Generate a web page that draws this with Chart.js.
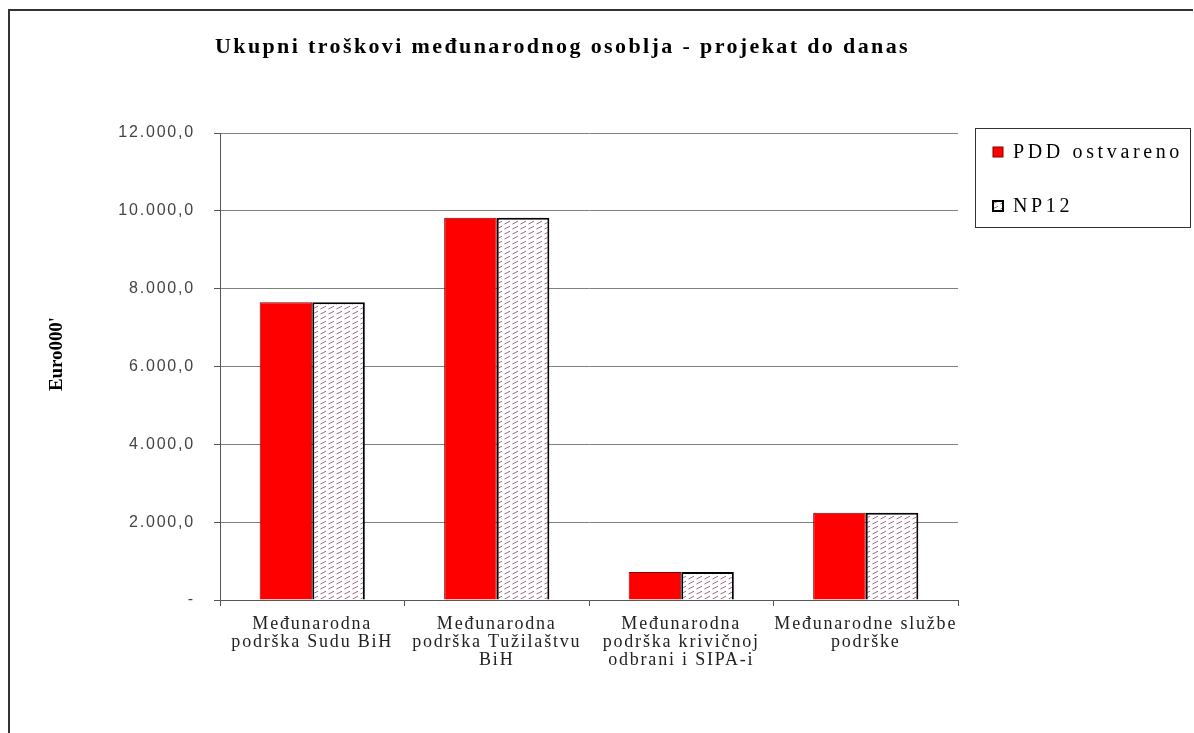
<!DOCTYPE html>
<html><head><meta charset="utf-8">
<script src="https://cdn.jsdelivr.net/npm/chart.js@4"></script>
<style>html,body{margin:0;padding:0;background:#fff}#wrap{width:1194px;height:733px;position:relative}</style>
</head><body><div id="wrap"><canvas id="c" width="1194" height="733"></canvas></div>
<script>
// ---- data ----
const categories = [
  ["Međunarodna", "podrška Sudu BiH"],
  ["Međunarodna", "podrška Tužilaštvu", "BiH"],
  ["Međunarodna", "podrška krivičnoj", "odbrani i SIPA-i"],
  ["Međunarodne službe", "podrške"]
];
const seriesNames = ["PDD ostvareno", "NP12"];
const pddValues = [7650, 9820, 720, 2240];
const np12Values = [7650, 9820, 720, 2240];
const yTickValues = [0, 2000, 4000, 6000, 8000, 10000, 12000];
const yTickLabels = ["-", "2.000,0", "4.000,0", "6.000,0", "8.000,0", "10.000,0", "12.000,0"];
const chartTitle = "Ukupni troškovi međunarodnog osoblja - projekat do danas";
const yAxisTitle = "Euro000'";

// ---- hatch pattern ----
function makeHatch() {
  const p = document.createElement('canvas');
  p.width = 8; p.height = 5;
  const g = p.getContext('2d');
  g.fillStyle = '#ffffff'; g.fillRect(0, 0, 8, 5);
  g.strokeStyle = '#a06a8a'; g.lineWidth = 1;
  g.beginPath(); g.moveTo(0.5, 4); g.lineTo(6, 1.2); g.stroke();
  return g.createPattern(p, 'repeat');
}
const ctx0 = document.getElementById('c').getContext('2d');
const hatch = makeHatch();

const SERIF = '"Liberation Serif", "Times New Roman", serif';
const SANS = '"Liberation Sans", Arial, sans-serif';

function patchScale(scale, spacing) {
  if (!scale || scale._lsPatched) return;
  const orig = scale.drawLabels.bind(scale);
  scale.drawLabels = function (ca) {
    const c = this.ctx; c.save(); c.letterSpacing = spacing; orig(ca); c.restore();
  };
  scale._lsPatched = true;
}

function fitText(c, text, x, y, targetW) {
  c.letterSpacing = '0px';
  const w0 = c.measureText(text).width;
  c.letterSpacing = ((targetW - w0) / text.length).toFixed(2) + 'px';
  c.fillText(text, x, y);
  c.letterSpacing = '0px';
}

const decor = {
  id: 'decor',
  beforeDraw(chart) {
    patchScale(chart.scales.x, '1.8px');
    patchScale(chart.scales.y, '1.8px');
  },
  afterDraw(chart) {
    const c = chart.ctx;
    c.save();
    // outer frame
    c.strokeStyle = '#333'; c.lineWidth = 2;
    c.beginPath(); c.moveTo(9, 733); c.lineTo(9, 10); c.lineTo(1193, 10); c.stroke();
    // title
    c.fillStyle = '#000'; c.font = 'bold 22px ' + SERIF;
    c.textBaseline = 'middle'; c.textAlign = 'left';
    fitText(c, chartTitle, 215, 47, 695);
    // y axis title
    c.save();
    c.translate(57, 354); c.rotate(-Math.PI / 2);
    c.font = 'bold 19px ' + SERIF; c.textAlign = 'left';
    fitText(c, yAxisTitle, -37, 0, 74);
    c.restore();
    // legend
    c.lineWidth = 1; c.strokeStyle = '#333';
    c.strokeRect(975.5, 128.5, 215, 99);
    const ds = chart.data.datasets;
    const rows = [152, 206];
    const widths = [170, 60];
    c.font = '20px ' + SERIF;
    ds.forEach((d, i) => {
      const y = rows[i];
      c.fillStyle = d.backgroundColor;
      c.fillRect(993, y - 5, 10, 10);
      c.strokeStyle = d.borderColor; c.lineWidth = i === 0 ? 1 : 2;
      c.strokeRect(993, y - 5, 10, 10);
      c.fillStyle = '#000'; c.textAlign = 'left'; c.textBaseline = 'middle';
      fitText(c, d.label, 1013, y + 1, widths[i]);
    });
    c.restore();
  }
};

new Chart(ctx0, {
  type: 'bar',
  data: {
    labels: categories,
    datasets: [
      { label: seriesNames[0], data: pddValues, backgroundColor: '#ff0000', borderColor: '#800000', borderWidth: 1 },
      { label: seriesNames[1], data: np12Values, backgroundColor: hatch, borderColor: '#000000', borderWidth: 2 }
    ]
  },
  options: {
    responsive: false,
    animation: false,
    layout: { padding: { left: 0, right: 236, top: 133, bottom: 0 } },
    datasets: { bar: { categoryPercentage: 0.57, barPercentage: 1.0 } },
    plugins: { legend: { display: false }, title: { display: false }, tooltip: { enabled: false } },
    scales: {
      x: {
        afterFit(s) { s.height = 133; },
        grid: { drawOnChartArea: false, drawTicks: true, tickLength: 6, color: '#555', offset: true },
        border: { display: true, color: '#555', width: 1 },
        ticks: { color: '#222', font: { family: SERIF, size: 18, lineHeight: 1.0 }, padding: 9, maxRotation: 0, autoSkip: false }
      },
      y: {
        min: 0, max: 12000,
        afterFit(s) { s.width = 220; },
        afterBuildTicks(s) { s.ticks = yTickValues.map(v => ({ value: v })); },
        grid: { color: '#808080', lineWidth: 1, drawTicks: true, tickLength: 6, tickColor: '#555' },
        border: { display: true, color: '#555', width: 1 },
        ticks: {
          color: '#444', font: { family: SANS, size: 16 }, padding: 19,
          callback: (v) => { const i = yTickValues.indexOf(v); return i >= 0 ? yTickLabels[i] : ''; }
        }
      }
    }
  },
  plugins: [decor]
});
</script>
</body></html>
